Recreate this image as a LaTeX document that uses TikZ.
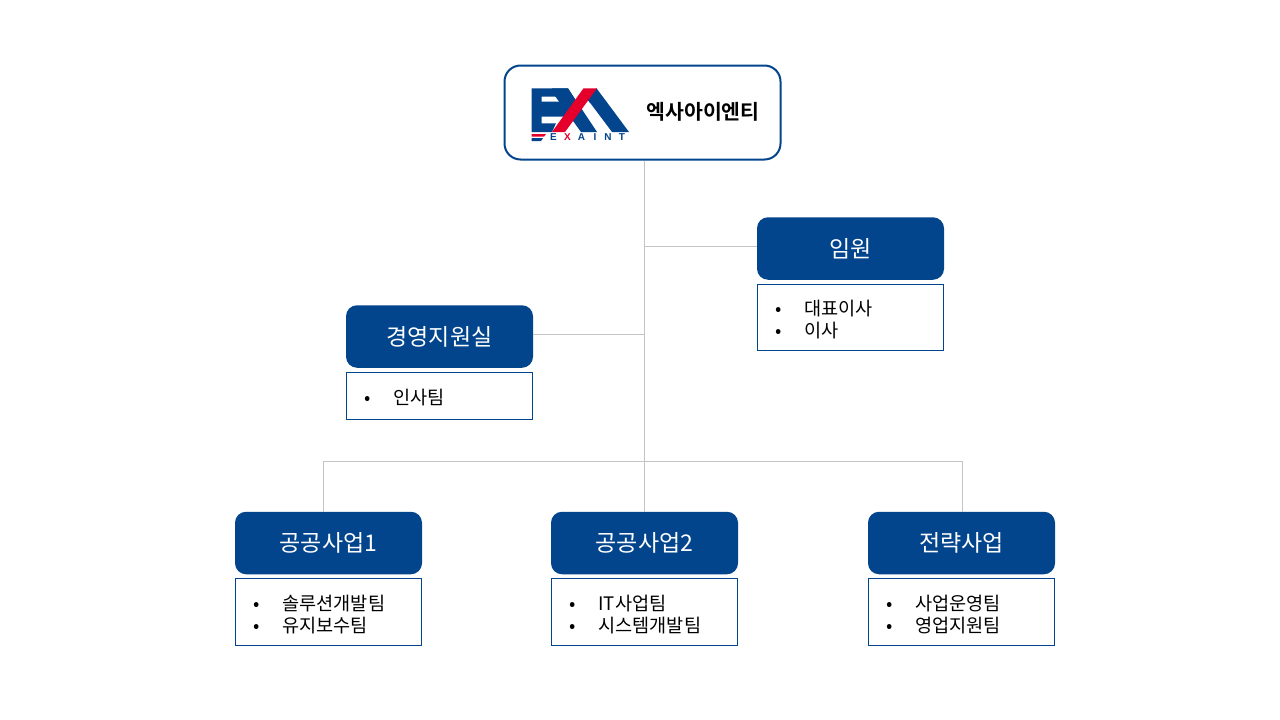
\documentclass[tikz,border=0pt]{standalone}
\usepackage{fontspec}
\setmainfont{Noto Sans CJK KR}
\newfontfamily\titlefont[BoldFont={Noto Sans CJK KR Bold}]{Noto Sans CJK KR}
\newfontfamily\logofont{Liberation Sans}
\definecolor{navy}{HTML}{03458C}
\definecolor{logored}{HTML}{E4002B}
\definecolor{linegray}{HTML}{C4C4C4}
\newcommand{\entry}[1]{\makebox[29pt][l]{•}#1}
\newcommand{\listdrop}{\rule{0pt}{20pt}}
\tikzset{
  x=1pt,y=-1pt,
  rootbox/.style={draw=navy,line width=2pt,rounded corners=16pt,fill=white,minimum width=276pt,minimum height=94pt,inner sep=0pt},
  headbox/.style={fill=navy,rounded corners=11pt,minimum width=187pt,minimum height=62.5pt,inner sep=0pt,text=white,font=\fontsize{23}{27}\selectfont},
  listbox/.style={draw=navy,line width=0.75pt,fill=white,minimum width=186pt,text width=150pt,inner xsep=18pt,inner ysep=0pt,align=left,font=\fontsize{18.6}{22}\selectfont},
  link/.style={draw=linegray,line width=0.9pt},
  logoletter/.style={inner sep=0pt,font=\logofont\bfseries\fontsize{10}{10}\selectfont,text=navy},
}
\begin{document}
\begin{tikzpicture}
\useasboundingbox (0,0) rectangle (1280,720);
\fill[white] (0,0) rectangle (1280,720);
% nodes
\node[rootbox] (root) at (642.5,112.5) {};
\node[headbox] (board) at (850.5,248.5) {임원};
\node[listbox,minimum height=66pt] (boardlist) at (850.5,317.5) {\listdrop\entry{대표이사}\\\entry{이사}};
\node[headbox] (support) at (439.5,336.5) {경영지원실};
\node[listbox,minimum height=47pt] (supportlist) at (439.5,396) {\rule{0pt}{17.5pt}\entry{인사팀}};
\node[headbox] (biza) at (328.5,543) {공공사업1};
\node[listbox,minimum height=67pt] (bizalist) at (328.5,612) {\listdrop\entry{솔루션개발팀}\\\entry{유지보수팀}};
\node[headbox] (bizb) at (644.5,543) {공공사업2};
\node[listbox,minimum height=67pt] (bizblist) at (644.5,612) {\listdrop\entry{IT사업팀}\\\entry{시스템개발팀}};
\node[headbox] (bizc) at (961.5,543) {전략사업};
\node[listbox,minimum height=67pt] (bizclist) at (961.5,612) {\listdrop\entry{사업운영팀}\\\entry{영업지원팀}};
% connectors
\coordinate (busa) at (323.5,461);
\coordinate (busb) at (644.5,461);
\coordinate (busc) at (962.5,461);
\coordinate (boardjoin) at (757,246);
\coordinate (supportjoin) at (533,334);
\draw[link] (bizb.north) -- (bizb.north |- root.south);
\draw[link] (boardjoin) -- (boardjoin -| bizb.north);
\draw[link] (supportjoin) -- (supportjoin -| bizb.north);
\draw[link] (busa) -- (busc);
\draw[link] (busa) -- (busa |- biza.north);
\draw[link] (busc) -- (busc |- bizc.north);
% title
\node[inner sep=0pt,font=\titlefont\bfseries\fontsize{20.5}{24}\selectfont] (title) at (703,111.5) {엑사아이엔티};
% logo: E
\fill[navy] (531.7,88.3) -- (568,88.3) -- (573,96.7) -- (541.7,96.7) -- (541.7,101.7) -- (570,101.7) -- (570,116.7) -- (541.7,116.7) -- (541.7,123.3) -- (556,123.3) -- (552,132) -- (531.7,132) -- cycle;
% logo: X leg
\fill[navy] (568,88.3) -- (597,132) -- (581,132) -- (555,96) -- (552,88.3) -- cycle;
% logo: A leg
\fill[navy] (596.5,88.3) -- (629,132) -- (612,132) -- (591,104) -- (584,96) -- cycle;
% logo: red band
\fill[logored] (583.5,88.3) -- (597,88.3) -- (565,132) -- (552,132) -- cycle;
% logo: stripes
\fill[logored] (531.7,134) -- (546,134) -- (544,136.7) -- (531.7,136.7) -- cycle;
\fill[navy] (531.7,138) -- (543,138) -- (541,141) -- (531.7,141) -- cycle;
\node[logoletter] (le) at (553.5,137.5) {E};
\node[logoletter,text=logored] (lx) at (567.5,137.5) {X};
\node[logoletter] (la) at (581.5,137.5) {A};
\node[logoletter] (li) at (595,137.5) {I};
\node[logoletter] (ln) at (608,137.5) {N};
\node[logoletter] (lt) at (622,137.5) {T};
\end{tikzpicture}
\end{document}
